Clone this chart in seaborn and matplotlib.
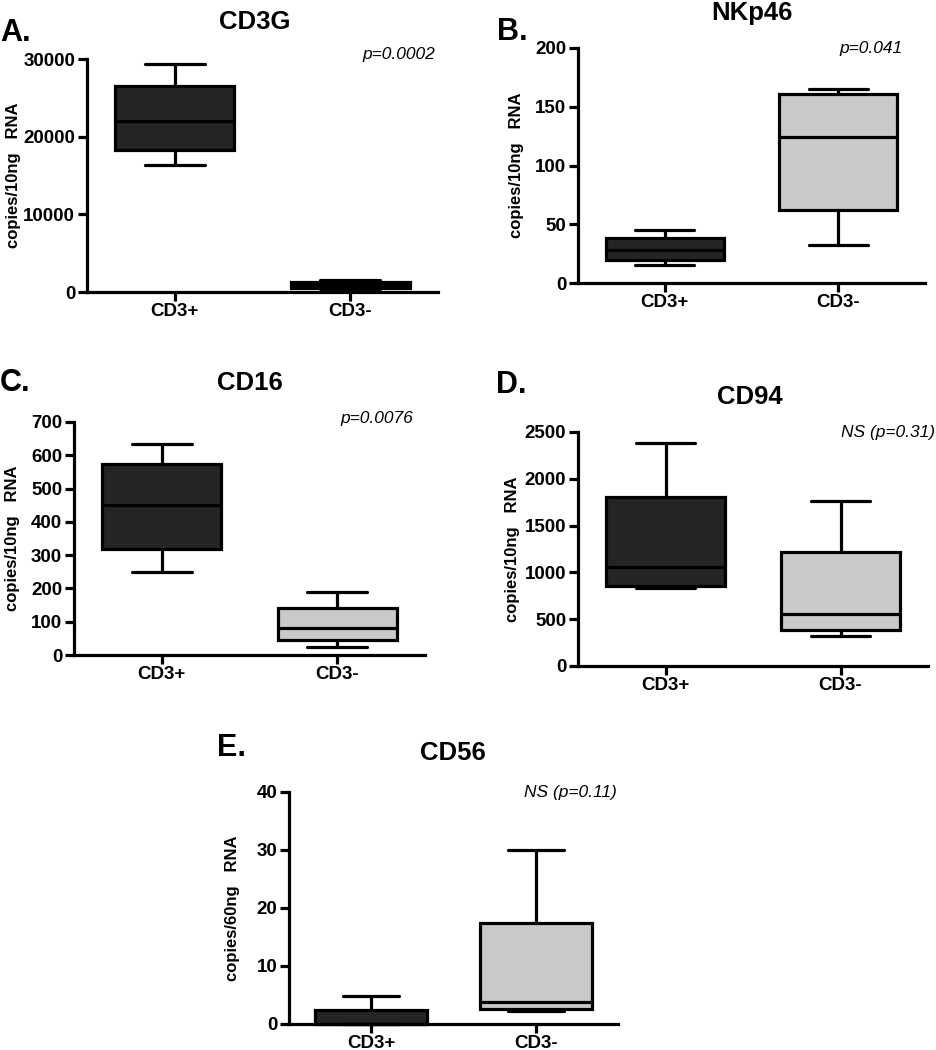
import matplotlib
matplotlib.use("Agg")
import matplotlib.pyplot as plt
import seaborn as sns
import pandas as pd

# ---- data: five-number summaries [min, Q1, median, Q3, max] ----
groups = ["CD3+", "CD3-"]
cd3g_pos = [16350, 18300, 22000, 26500, 29300]
cd3g_neg = [150, 500, 900, 1330, 1550]
nkp46_pos = [15, 20, 28.5, 38, 45]
nkp46_neg = [32, 62, 124, 161, 165]
cd16_pos = [249, 317, 450, 573, 635]
cd16_neg = [23, 45, 82, 142, 190]
cd94_pos = [835, 860, 1060, 1810, 2380]
cd94_neg = [320, 380, 560, 1220, 1760]
cd56_pos = [0, 0, 0, 2.4, 4.8]
cd56_neg = [2.3, 2.6, 3.8, 17.5, 30]

titles = ["CD3G", "NKp46", "CD16", "CD94", "CD56"]
letters = ["A.", "B.", "C.", "D.", "E."]
pvals = ["p=0.0002", "p=0.041", "p=0.0076", "NS (p=0.31)", "NS (p=0.11)"]
ylabels = ["copies/10ng   RNA", "copies/10ng   RNA", "copies/10ng   RNA",
           "copies/10ng   RNA", "copies/60ng   RNA"]
yticks = [[0, 10000, 20000, 30000], [0, 50, 100, 150, 200],
          [0, 100, 200, 300, 400, 500, 600, 700],
          [0, 500, 1000, 1500, 2000, 2500], [0, 10, 20, 30, 40]]
series = [(cd3g_pos, cd3g_neg), (nkp46_pos, nkp46_neg), (cd16_pos, cd16_neg),
          (cd94_pos, cd94_neg), (cd56_pos, cd56_neg)]

dark = "#252525"
light = "#c9c9c9"

sns.set_style("ticks")
plt.rcParams["font.family"] = ["Liberation Sans", "DejaVu Sans"]
plt.rcParams["text.color"] = "black"
plt.rcParams["xtick.color"] = "black"
plt.rcParams["ytick.color"] = "black"

W, H = 936, 1050
fig = plt.figure(figsize=(W / 100, H / 100), dpi=100)

def fx(px):
    return px / W

def fy(py):
    return 1 - py / H

# axes boxes in pixels: left, right, top, bottom
boxes = [(87, 438, 59, 292), (578, 925, 48, 283), (74, 425, 422, 655),
         (578, 928, 432, 666), (289, 618, 792, 1024)]
title_pos = [(255, 22), (752, 13), (250, 383), (750, 397), (453, 753)]
letter_pos = [(0, 33), (497, 32), (0, 383), (496, 385), (217, 748)]
ylab_x = [14, 517, 13, 512, 233]
p_pos = [(435, 55), (903, 48), (413, 418), (935, 433), (617, 793)]

lw = 2.3
for i in range(5):
    l, r, t, b = boxes[i]
    ax = fig.add_axes([fx(l), fy(b), fx(r) - fx(l), (b - t) / H])
    pos, neg = series[i]
    df = pd.DataFrame({"group": [groups[0]] * len(pos) + [groups[1]] * len(neg),
                       "value": list(pos) + list(neg)})
    sns.boxplot(data=df, x="group", y="value", hue="group", order=groups,
                hue_order=groups, palette=[dark, light], whis=(0, 100),
                width=0.68, linewidth=lw, linecolor="black", legend=False,
                saturation=1, ax=ax)
    ax.set_xlim(-0.5, 1.5)
    ax.set_ylim(0, yticks[i][-1])
    ax.set_yticks(yticks[i])
    ax.set_xlabel("")
    ax.set_ylabel("")
    for s in ["top", "right"]:
        ax.spines[s].set_visible(False)
    for s in ["left", "bottom"]:
        ax.spines[s].set_linewidth(lw)
        ax.spines[s].set_color("black")
    ax.tick_params(axis="both", direction="out", length=6.5, width=lw,
                   color="black", labelsize=13.5, labelcolor="black")
    ax.tick_params(axis="x", pad=1.5)
    ax.tick_params(axis="y", pad=2)
    for lab in ax.get_xticklabels() + ax.get_yticklabels():
        lab.set_fontweight("bold")
    for art in list(ax.patches) + list(ax.lines):
        art.set_clip_on(False)

    tx, ty = title_pos[i]
    fig.text(fx(tx), fy(ty), titles[i], ha="center", va="center",
             fontsize=18.5, fontweight="bold", color="black")
    lx, ly = letter_pos[i]
    fig.text(fx(lx), fy(ly), letters[i], ha="left", va="center",
             fontsize=22, fontweight="bold", color="black")
    fig.text(fx(ylab_x[i]), fy((t + b) / 2), ylabels[i], ha="center",
             va="center", rotation=90, fontsize=12, fontweight="bold",
             color="black")
    px_, py_ = p_pos[i]
    fig.text(fx(px_), fy(py_), pvals[i], ha="right", va="center",
             fontsize=12.5, fontstyle="italic", color="black")

fig.savefig("out.png", dpi=100)
